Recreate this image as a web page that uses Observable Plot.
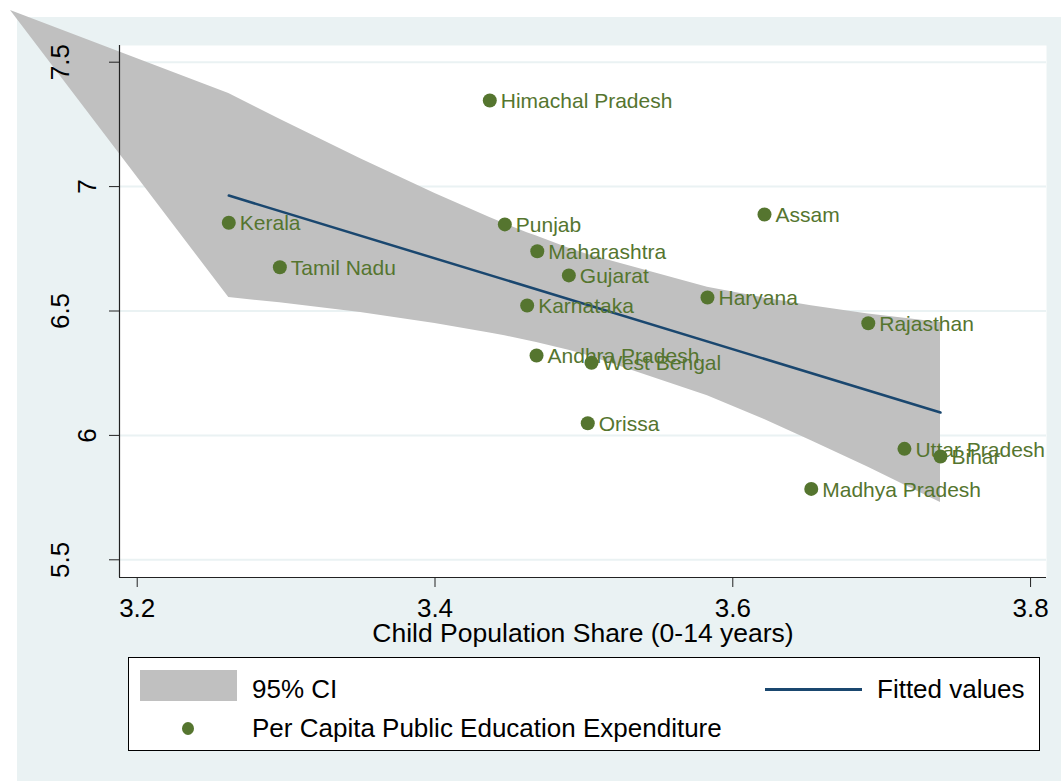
<!DOCTYPE html>
<html>
<head>
<meta charset="utf-8">
<script src="https://cdn.jsdelivr.net/npm/d3@7"></script>
<script src="https://cdn.jsdelivr.net/npm/@observablehq/plot@0.6"></script>
<style>
  html, body { margin: 0; padding: 0; background: #ffffff; }
  #wrap { position: relative; width: 1061px; height: 781px; overflow: hidden;
          font-family: Arial, "Liberation Sans", sans-serif; }
  #bg { position: absolute; left: 17px; top: 17px; width: 1044px; height: 764px; background: #EAF2F3; }
  #chart { position: absolute; left: 0; top: 0; }
  #legend { position: absolute; left: 128px; top: 657px; width: 910px; height: 92px;
            border: 1px solid #000; background: #fff; }
  .lg { position: absolute; font-size: 26px; line-height: 30px; color: #000; white-space: nowrap; }
</style>
</head>
<body>
<div id="wrap">
  <div id="bg"></div>
  <div id="chart"></div>
  <div id="legend"></div>
</div>
<script>
// ---- data ----
const states = ["Himachal Pradesh","Assam","Kerala","Punjab","Maharashtra","Tamil Nadu","Gujarat","Haryana",
  "Karnataka","Rajasthan","Andhra Pradesh","West Bengal","Orissa","Uttar Pradesh","Bihar","Madhya Pradesh"];
const childShare = [3.4368,3.6213,3.2615,3.4469,3.4687,3.2958,3.4899,3.5830,
  3.4619,3.6910,3.4682,3.5051,3.5026,3.7153,3.7395,3.6527];
const eduExp = [7.346,6.888,6.855,6.848,6.740,6.676,6.643,6.554,
  6.522,6.451,6.321,6.292,6.049,5.946,5.915,5.785];

// 95% CI band (first vertex is the stray corner point drawn in the original)
const bandX    = [3.1149,3.2615,3.2958,3.3500,3.4000,3.4368,3.4469,3.4619,3.4682,3.4899,3.5026,3.5830,3.6213,3.6527,3.6910,3.7153,3.7395];
const bandLow  = [7.708, 6.554, 6.533, 6.494, 6.450, 6.412, 6.401, 6.381, 6.373, 6.342, 6.321, 6.159, 6.064, 5.979, 5.872, 5.801, 5.730];
const bandHigh = [7.708, 7.374, 7.271, 7.112, 6.972, 6.876, 6.851, 6.815, 6.801, 6.752, 6.727, 6.595, 6.552, 6.521, 6.488, 6.471, 6.454];

// fitted values
const fitX = [3.2615,3.7395];
const fitY = [6.964, 6.092];

const xTicks = [3.2,3.4,3.6,3.8];
const xTickLabels = ["3.2","3.4","3.6","3.8"];
const yTicks = [5.5,6,6.5,7,7.5];
const yTickLabels = ["5.5","6","6.5","7","7.5"];
const xTitle = "Child Population Share (0-14 years)";
const legendLabels = ["95% CI","Fitted values","Per Capita Public Education Expenditure"];

// ---- build ----
const pts = states.map((s,i)=>({state:s, x:childShare[i], y:eduExp[i]}));
const band = bandX.map((x,i)=>({x, lo:bandLow[i], hi:bandHigh[i]}));
const fit = fitX.map((x,i)=>({x, y:fitY[i]}));
const yLab = yTicks.map((v,i)=>({v, t:yTickLabels[i]}));
const xLabMap = new Map(xTicks.map((v,i)=>[v, xTickLabels[i]]));
const xDomain = [3.1881, 3.8107];
const yDomain = [5.4289, 7.5671];
const green = "#55752F", navy = "#1A476F", gray = "#C0C0C0";
const font = 'Arial, "Liberation Sans", sans-serif';

const chart = Plot.plot({
  width: 1061, height: 650,
  marginLeft: 119, marginRight: 15, marginTop: 45, marginBottom: 73,
  style: {background: "transparent", fontFamily: font, color: "#000"},
  x: {domain: xDomain},
  y: {domain: yDomain},
  marks: [
    Plot.frame({fill: "white", stroke: "none"}),
    Plot.gridY(yTicks, {stroke: "#EAF2F3", strokeOpacity: 1, strokeWidth: 2}),
    Plot.areaY(band, {x: "x", y1: "lo", y2: "hi", fill: gray, fillOpacity: 1}),
    Plot.line(fit, {x: "x", y: "y", stroke: navy, strokeWidth: 2.5}),
    Plot.dot(pts, {x: "x", y: "y", r: 7, fill: green, stroke: "none"}),
    Plot.text(pts, {x: "x", y: "y", text: "state", textAnchor: "start", dx: 11, dy: 1, fill: green, fontSize: 21}),
    Plot.ruleX([xDomain[0]], {stroke: "#222", strokeWidth: 1.2}),
    Plot.ruleY([yDomain[0]], {stroke: "#222", strokeWidth: 1.2}),
    Plot.axisX(xTicks, {tickSize: 10, tickPadding: 11, fontSize: 26, label: null, stroke: "#222", fill: "#000",
      tickFormat: d => xLabMap.get(d)}),
    Plot.axisY(yTicks, {tickSize: 10, tickFormat: () => "", label: null, stroke: "#222"}),
    Plot.text(yLab.filter(d => d.t.length > 1), {y: "v", text: "t", frameAnchor: "left", rotate: -90,
      dx: -58.5, fontSize: 26, textAnchor: "middle", lineAnchor: "middle", fill: "#000"}),
    Plot.text(yLab.filter(d => d.t.length === 1), {y: "v", text: "t", frameAnchor: "left", rotate: -90,
      dx: -31.5, fontSize: 26, textAnchor: "middle", lineAnchor: "middle", fill: "#000"}),
    Plot.text([xTitle], {frameAnchor: "bottom", dy: 56, fontSize: 26.5, lineAnchor: "middle", fill: "#000"})
  ]
});
document.getElementById("chart").appendChild(chart);

// ---- legend ----
const lg = document.getElementById("legend");
lg.innerHTML = `
  <div style="position:absolute;left:11px;top:12px;width:97px;height:31px;background:${gray}"></div>
  <div class="lg" style="left:123px;top:16px">${legendLabels[0]}</div>
  <div style="position:absolute;left:636px;top:30px;width:97px;height:3px;background:${navy}"></div>
  <div class="lg" style="left:748px;top:16px">${legendLabels[1]}</div>
  <div style="position:absolute;left:53px;top:64px;width:12px;height:13px;border-radius:50%;background:${green}"></div>
  <div class="lg" style="left:123px;top:55px">${legendLabels[2]}</div>
`;
</script>
</body>
</html>
